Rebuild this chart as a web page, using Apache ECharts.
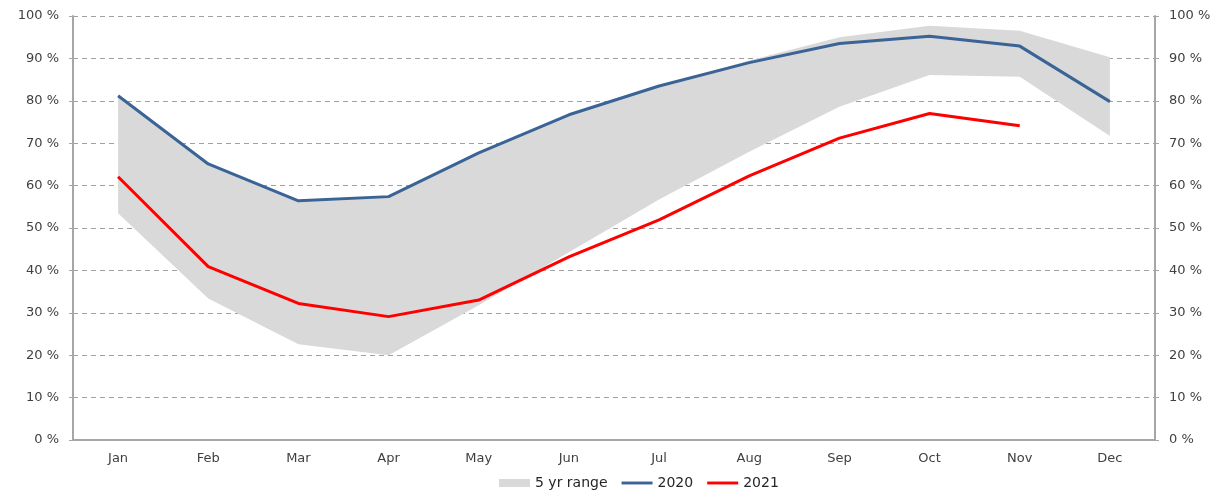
<!DOCTYPE html>
<html>
<head>
<meta charset="utf-8">
<script src="https://cdn.jsdelivr.net/npm/echarts@6/dist/echarts.min.js"></script>
<style>
html, body { margin: 0; padding: 0; background: #fff; }
#chart { width: 1225px; height: 493px; }
</style>
</head>
<body>
<div id="chart"></div>
<script>
var months = ['Jan', 'Feb', 'Mar', 'Apr', 'May', 'Jun', 'Jul', 'Aug', 'Sep', 'Oct', 'Nov', 'Dec']
var rangeLow = [53.5, 33.4, 22.6, 20.0, 31.8, 44.3, 56.7, 68.0, 78.6, 86.1, 85.7, 71.7]
var rangeHigh = [81.2, 65.1, 56.4, 57.4, 67.7, 76.7, 83.5, 89.5, 95.0, 97.7, 96.5, 90.3]
var y2020 = [81.2, 65.1, 56.4, 57.4, 67.7, 76.7, 83.5, 89.0, 93.5, 95.2, 92.9, 79.8]
var y2021 = [62.1, 40.9, 32.2, 29.1, 33.0, 43.2, 51.9, 62.3, 71.2, 77.0, 74.1, null]

showChart()

function showChart() {
    var myChart = echarts.init(document.getElementById('chart'));
    // stacked band: invisible lower part + visible span on top
    var rangeSpan = rangeHigh.map(function (v, i) { return +(v - rangeLow[i]).toFixed(1) })
    var txt = { color: '#404040', fontSize: 14, fontFamily: 'DejaVu Sans' }
    var lineIcon = 'path://M0,0 L32,0 L32,3 L0,3 Z'
    var valAxis = function (pos) {
        return {
            type: 'value',
            position: pos,
            min: 0,
            max: 100,
            interval: 10,
            axisLine: { show: true, lineStyle: { color: '#a6a6a6', width: 2 } },
            axisTick: { show: true, length: 4, lineStyle: { color: '#a6a6a6' } },
            axisLabel: Object.assign({ formatter: '{value} %', margin: 14 }, txt, { fontSize: 13 }),
            splitLine: { show: pos === 'left', lineStyle: { color: '#a0a0a0', type: [5, 4], width: 1 } }
        }
    }
    var option = {
        animation: false,
        grid: { left: 73, right: 70, top: 16, bottom: 53 },
        legend: {
            top: 471,
            left: 494,
            itemWidth: 31,
            itemHeight: 8,
            itemGap: 14,
            textStyle: Object.assign({}, txt, { color: '#262626' }),
            data: [
                { name: '5 yr range', icon: 'rect', itemStyle: { color: '#d9d9d9' } },
                { name: '2020', icon: lineIcon },
                { name: '2021', icon: lineIcon }
            ]
        },
        xAxis: {
            type: 'category',
            data: months,
            boundaryGap: true,
            axisLine: { lineStyle: { color: '#a6a6a6', width: 2 } },
            axisTick: { show: false },
            axisLabel: Object.assign({ margin: 12 }, txt, { fontSize: 13 })
        },
        yAxis: [valAxis('left'), valAxis('right')],
        series: [
            {
                name: 'low',
                type: 'line',
                stack: 'band',
                data: rangeLow,
                symbol: 'none',
                lineStyle: { width: 0 },
                areaStyle: { opacity: 0 },
                silent: true
            },
            {
                name: '5 yr range',
                type: 'line',
                stack: 'band',
                data: rangeSpan,
                symbol: 'none',
                itemStyle: { color: '#d9d9d9' },
                lineStyle: { width: 0 },
                areaStyle: { color: '#d9d9d9', opacity: 1 }
            },
            {
                name: '2020',
                type: 'line',
                data: y2020,
                symbol: 'none',
                itemStyle: { color: '#3a6396' },
                lineStyle: { width: 3, color: '#3a6396' }
            },
            {
                name: '2021',
                type: 'line',
                data: y2021,
                symbol: 'none',
                itemStyle: { color: '#ff0000' },
                lineStyle: { width: 3, color: '#ff0000' }
            }
        ]
    };
    myChart.setOption(option);
}
</script>
</body>
</html>
